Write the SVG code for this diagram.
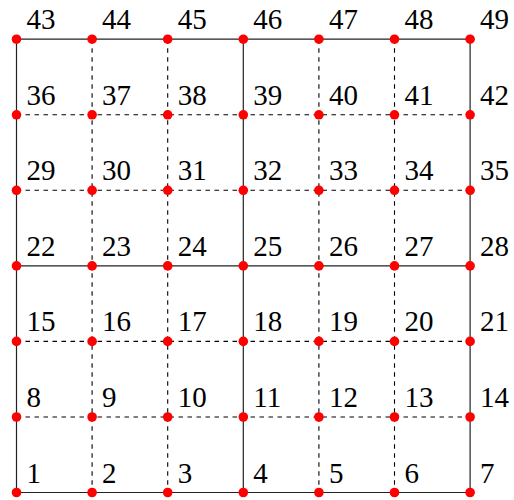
<svg xmlns="http://www.w3.org/2000/svg" width="514" height="500" viewBox="0 0 514 500">
<style>
.s{stroke:#222;stroke-width:1.2;fill:none}
.d{stroke:#000;stroke-width:1.1;stroke-dasharray:4.5 4.5;fill:none}
.n{fill:#f00}
text{font-family:"Liberation Serif","DejaVu Serif",serif;font-size:29px;fill:#000}
</style>
<rect width="514" height="500" fill="#fff"/>
<g id="connectors">
<line class="d" x1="92.1" y1="39.2" x2="92.1" y2="492.5"/>
<line class="d" x1="167.7" y1="39.2" x2="167.7" y2="492.5"/>
<line class="d" x1="318.9" y1="39.2" x2="318.9" y2="492.5"/>
<line class="d" x1="394.5" y1="39.2" x2="394.5" y2="492.5"/>
<line class="d" x1="16.5" y1="417.0" x2="470.1" y2="417.0"/>
<line class="d" x1="16.5" y1="341.4" x2="470.1" y2="341.4"/>
<line class="d" x1="16.5" y1="190.3" x2="470.1" y2="190.3"/>
<line class="d" x1="16.5" y1="114.8" x2="470.1" y2="114.8"/>
<line class="s" x1="16.5" y1="39.2" x2="16.5" y2="492.5"/>
<line class="s" x1="243.3" y1="39.2" x2="243.3" y2="492.5"/>
<line class="s" x1="470.1" y1="39.2" x2="470.1" y2="492.5"/>
<line class="s" x1="16.5" y1="492.5" x2="470.1" y2="492.5"/>
<line class="s" x1="16.5" y1="265.9" x2="470.1" y2="265.9"/>
<line class="s" x1="16.5" y1="39.2" x2="470.1" y2="39.2"/>
</g>
<g id="n1"><circle class="n" cx="16.5" cy="492.5" r="4.8"/><text x="26.5" y="482.5">1</text></g>
<g id="n2"><circle class="n" cx="92.1" cy="492.5" r="4.8"/><text x="102.1" y="482.5">2</text></g>
<g id="n3"><circle class="n" cx="167.7" cy="492.5" r="4.8"/><text x="177.7" y="482.5">3</text></g>
<g id="n4"><circle class="n" cx="243.3" cy="492.5" r="4.8"/><text x="253.3" y="482.5">4</text></g>
<g id="n5"><circle class="n" cx="318.9" cy="492.5" r="4.8"/><text x="328.9" y="482.5">5</text></g>
<g id="n6"><circle class="n" cx="394.5" cy="492.5" r="4.8"/><text x="404.5" y="482.5">6</text></g>
<g id="n7"><circle class="n" cx="470.1" cy="492.5" r="4.8"/><text x="480.1" y="482.5">7</text></g>
<g id="n8"><circle class="n" cx="16.5" cy="417.0" r="4.8"/><text x="26.5" y="407">8</text></g>
<g id="n9"><circle class="n" cx="92.1" cy="417.0" r="4.8"/><text x="102.1" y="407">9</text></g>
<g id="n10"><circle class="n" cx="167.7" cy="417.0" r="4.8"/><text x="177.7" y="407">10</text></g>
<g id="n11"><circle class="n" cx="243.3" cy="417.0" r="4.8"/><text x="253.3" y="407">11</text></g>
<g id="n12"><circle class="n" cx="318.9" cy="417.0" r="4.8"/><text x="328.9" y="407">12</text></g>
<g id="n13"><circle class="n" cx="394.5" cy="417.0" r="4.8"/><text x="404.5" y="407">13</text></g>
<g id="n14"><circle class="n" cx="470.1" cy="417.0" r="4.8"/><text x="480.1" y="407">14</text></g>
<g id="n15"><circle class="n" cx="16.5" cy="341.4" r="4.8"/><text x="26.5" y="331.4">15</text></g>
<g id="n16"><circle class="n" cx="92.1" cy="341.4" r="4.8"/><text x="102.1" y="331.4">16</text></g>
<g id="n17"><circle class="n" cx="167.7" cy="341.4" r="4.8"/><text x="177.7" y="331.4">17</text></g>
<g id="n18"><circle class="n" cx="243.3" cy="341.4" r="4.8"/><text x="253.3" y="331.4">18</text></g>
<g id="n19"><circle class="n" cx="318.9" cy="341.4" r="4.8"/><text x="328.9" y="331.4">19</text></g>
<g id="n20"><circle class="n" cx="394.5" cy="341.4" r="4.8"/><text x="404.5" y="331.4">20</text></g>
<g id="n21"><circle class="n" cx="470.1" cy="341.4" r="4.8"/><text x="480.1" y="331.4">21</text></g>
<g id="n22"><circle class="n" cx="16.5" cy="265.9" r="4.8"/><text x="26.5" y="255.9">22</text></g>
<g id="n23"><circle class="n" cx="92.1" cy="265.9" r="4.8"/><text x="102.1" y="255.9">23</text></g>
<g id="n24"><circle class="n" cx="167.7" cy="265.9" r="4.8"/><text x="177.7" y="255.9">24</text></g>
<g id="n25"><circle class="n" cx="243.3" cy="265.9" r="4.8"/><text x="253.3" y="255.9">25</text></g>
<g id="n26"><circle class="n" cx="318.9" cy="265.9" r="4.8"/><text x="328.9" y="255.9">26</text></g>
<g id="n27"><circle class="n" cx="394.5" cy="265.9" r="4.8"/><text x="404.5" y="255.9">27</text></g>
<g id="n28"><circle class="n" cx="470.1" cy="265.9" r="4.8"/><text x="480.1" y="255.9">28</text></g>
<g id="n29"><circle class="n" cx="16.5" cy="190.3" r="4.8"/><text x="26.5" y="180.3">29</text></g>
<g id="n30"><circle class="n" cx="92.1" cy="190.3" r="4.8"/><text x="102.1" y="180.3">30</text></g>
<g id="n31"><circle class="n" cx="167.7" cy="190.3" r="4.8"/><text x="177.7" y="180.3">31</text></g>
<g id="n32"><circle class="n" cx="243.3" cy="190.3" r="4.8"/><text x="253.3" y="180.3">32</text></g>
<g id="n33"><circle class="n" cx="318.9" cy="190.3" r="4.8"/><text x="328.9" y="180.3">33</text></g>
<g id="n34"><circle class="n" cx="394.5" cy="190.3" r="4.8"/><text x="404.5" y="180.3">34</text></g>
<g id="n35"><circle class="n" cx="470.1" cy="190.3" r="4.8"/><text x="480.1" y="180.3">35</text></g>
<g id="n36"><circle class="n" cx="16.5" cy="114.8" r="4.8"/><text x="26.5" y="104.8">36</text></g>
<g id="n37"><circle class="n" cx="92.1" cy="114.8" r="4.8"/><text x="102.1" y="104.8">37</text></g>
<g id="n38"><circle class="n" cx="167.7" cy="114.8" r="4.8"/><text x="177.7" y="104.8">38</text></g>
<g id="n39"><circle class="n" cx="243.3" cy="114.8" r="4.8"/><text x="253.3" y="104.8">39</text></g>
<g id="n40"><circle class="n" cx="318.9" cy="114.8" r="4.8"/><text x="328.9" y="104.8">40</text></g>
<g id="n41"><circle class="n" cx="394.5" cy="114.8" r="4.8"/><text x="404.5" y="104.8">41</text></g>
<g id="n42"><circle class="n" cx="470.1" cy="114.8" r="4.8"/><text x="480.1" y="104.8">42</text></g>
<g id="n43"><circle class="n" cx="16.5" cy="39.2" r="4.8"/><text x="26.5" y="29.2">43</text></g>
<g id="n44"><circle class="n" cx="92.1" cy="39.2" r="4.8"/><text x="102.1" y="29.2">44</text></g>
<g id="n45"><circle class="n" cx="167.7" cy="39.2" r="4.8"/><text x="177.7" y="29.2">45</text></g>
<g id="n46"><circle class="n" cx="243.3" cy="39.2" r="4.8"/><text x="253.3" y="29.2">46</text></g>
<g id="n47"><circle class="n" cx="318.9" cy="39.2" r="4.8"/><text x="328.9" y="29.2">47</text></g>
<g id="n48"><circle class="n" cx="394.5" cy="39.2" r="4.8"/><text x="404.5" y="29.2">48</text></g>
<g id="n49"><circle class="n" cx="470.1" cy="39.2" r="4.8"/><text x="480.1" y="29.2">49</text></g>
</svg>
